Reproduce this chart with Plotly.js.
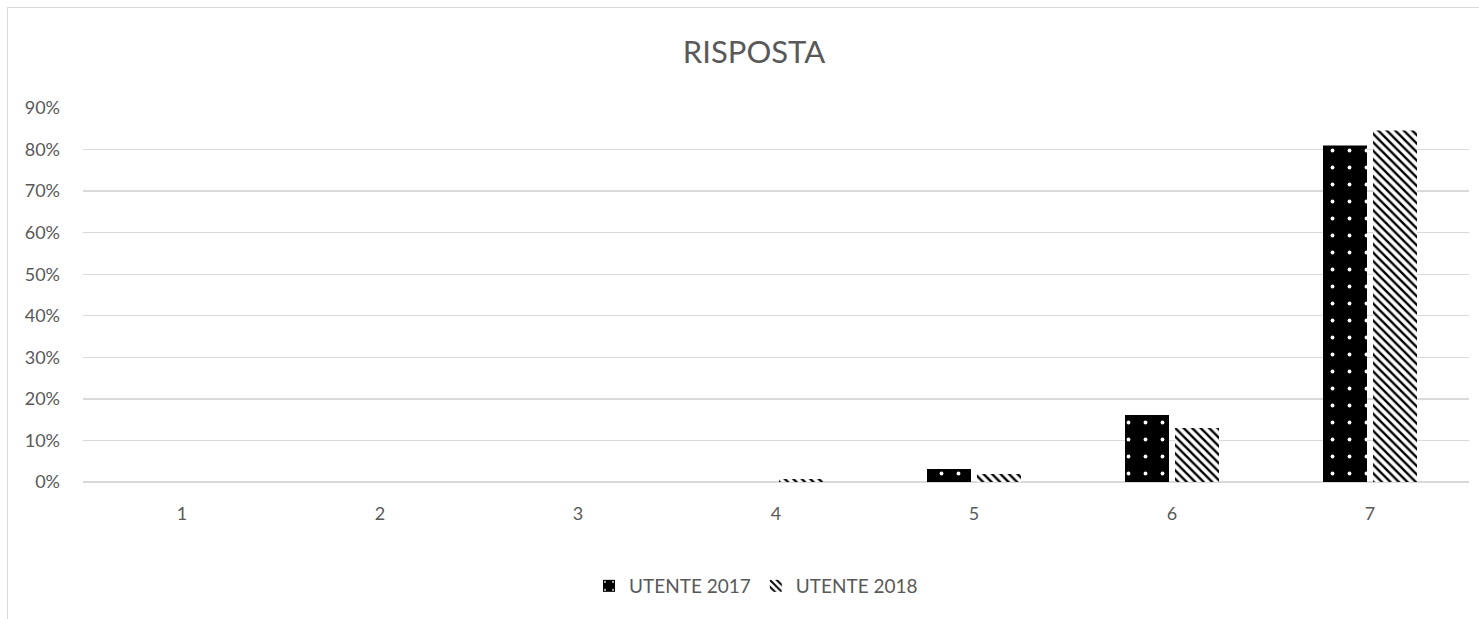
<!DOCTYPE html>
<html><head><meta charset="utf-8">
<script src="https://cdn.plot.ly/plotly-3.0.1.min.js"></script>
<style>
html,body{margin:0;padding:0;background:#fff;}
#frame{position:absolute;left:7px;top:7px;width:1480px;height:620px;border:1px solid #d9d9d9;box-sizing:border-box;}
#chart{position:absolute;left:0;top:0;width:1479px;height:619px;}
</style></head>
<body>
<div id="frame"></div>
<div id="chart"></div>
<script>
const categories = ['1','2','3','4','5','6','7'];
const utente2017 = [0, 0, 0, 0, 0.031, 0.161, 0.81];
const utente2018 = [0, 0, 0, 0.007, 0.019, 0.13, 0.846];
const yTicks = [0,0.1,0.2,0.3,0.4,0.5,0.6,0.7,0.8,0.9];
const yTickLabels = ['0%','10%','20%','30%','40%','50%','60%','70%','80%','90%'];

const traces = [
  {type:'bar', name:'UTENTE 2017', x:categories, y:utente2017,
   marker:{color:'#000', line:{color:'#000', width:0},
     pattern:{shape:'.', fgcolor:'#ffffff', bgcolor:'#000000', size:17, solidity:0.04}}},
  {type:'bar', name:'UTENTE 2018', x:categories, y:utente2018,
   marker:{color:'#fff', line:{color:'#fff', width:0},
     pattern:{shape:'\\', fgcolor:'#000000', bgcolor:'#ffffff', size:6, solidity:0.4}}}
];
const layout = {
  width:1479, height:619,
  margin:{l:83, r:10, t:108, b:137},
  paper_bgcolor:'rgba(0,0,0,0)', plot_bgcolor:'rgba(0,0,0,0)',
  font:{family:'Lato, Open Sans, sans-serif', color:'#595959', size:18},
  title:{text:'RISPOSTA', x:754/1479, xanchor:'center', xref:'container', y:1-52/619, yref:'container', yanchor:'middle', font:{size:31, color:'#595959'}},
  barmode:'group', bargap:0.495, bargroupgap:0.12,
  xaxis:{type:'category', automargin:false, showgrid:false, zeroline:false, showline:false, ticks:'', ticklabelstandoff:19, tickfont:{size:18}},
  yaxis:{range:[0,0.9], automargin:false, tickvals:yTicks, ticktext:yTickLabels, showgrid:true, gridcolor:'#d9d9d9', gridwidth:1.3,
         zeroline:true, zerolinecolor:'#d9d9d9', zerolinewidth:1.3, showline:false, ticks:'', ticklabelstandoff:22, tickfont:{size:18}},
  legend:{orientation:'h', x:756/1479, xanchor:'center', xref:'container', y:(619-586)/619, yref:'container', yanchor:'middle', font:{size:19, color:'#595959'}, traceorder:'normal', itemwidth:30},
  showlegend:true
};
Plotly.newPlot('chart', traces, layout, {displayModeBar:false, staticPlot:true});
</script>
</body></html>
